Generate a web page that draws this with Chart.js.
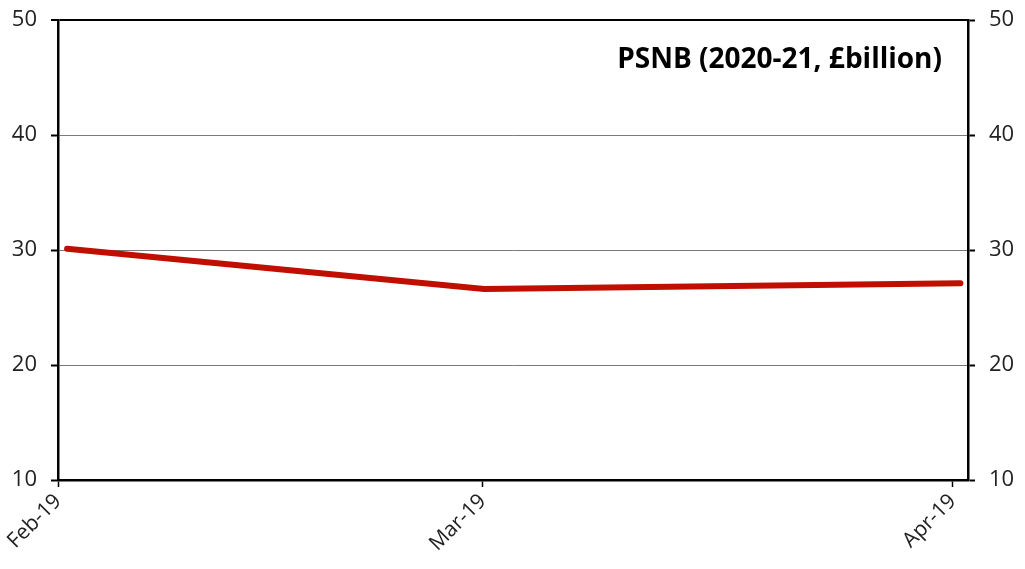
<!DOCTYPE html>
<html>
<head>
<meta charset="utf-8">
<script src="https://cdn.jsdelivr.net/npm/chart.js@4/dist/chart.umd.min.js"></script>
<style>
  html, body { margin: 0; padding: 0; background: #fff; }
  #wrap { width: 1025px; height: 569px; }
</style>
</head>
<body>
<div id="wrap"><canvas id="psnbChart"></canvas></div>
<script>
// data
const categories = ["Feb-19", "Mar-19", "Apr-19"];
const tickDays = [0, 28, 59];        // days since 1 Feb 2019 for each month tick
const pointDays = [0.6, 28.1, 59.5]; // where the line's points sit
const psnb = [30.1, 26.6, 27.1];
const yTicks = [10, 20, 30, 40, 50];
const seriesTitle = "PSNB (2020-21, £billion)";

const FONT = "'Open Sans', 'Noto Sans', sans-serif";

const titlePlugin = {
  id: "cornerTitle",
  afterDraw(chart) {
    const { ctx, chartArea } = chart;
    ctx.save();
    ctx.font = "bold 28px " + FONT;
    ctx.fillStyle = "#000";
    ctx.textAlign = "right";
    ctx.textBaseline = "alphabetic";
    ctx.fillText(seriesTitle, chartArea.right - 26, chartArea.top + 48);
    ctx.restore();
  },
};

const yAxisTicks = (scale) => {
  scale.ticks = yTicks.map((v) => ({ value: v }));
};

// fixed axis widths, and no extra label overhang padding at top/bottom
const fitYAxis = (width) => (scale) => {
  scale.width = width;
  scale.paddingTop = 0;
  scale.paddingBottom = 0;
};

const ctx = document.getElementById("psnbChart").getContext("2d");

new Chart(ctx, {
  type: "line",
  data: {
    datasets: [
      {
        label: seriesTitle,
        data: pointDays.map((d, i) => ({ x: d, y: psnb[i] })),
        borderColor: "#c00f00",
        borderWidth: 6,
        borderCapStyle: "round",
        borderJoinStyle: "round",
        pointRadius: 0,
        tension: 0,
        yAxisID: "y",
      },
    ],
  },
  options: {
    responsive: true,
    maintainAspectRatio: false,
    animation: false,
    layout: { padding: { top: 20, left: 0, right: 0, bottom: 0 } },
    plugins: {
      legend: { display: false },
      tooltip: { enabled: false },
    },
    scales: {
      x: {
        type: "linear",
        min: 0,
        max: 60,
        afterBuildTicks: (scale) => {
          scale.ticks = tickDays.map((v) => ({ value: v }));
        },
        afterFit: (scale) => {
          scale.height = 89;
          scale.paddingLeft = 0;
          scale.paddingRight = 0;
        },
        ticks: {
          autoSkip: false,
          maxRotation: 45,
          minRotation: 45,
          padding: 2,
          color: "#222",
          font: { family: FONT, size: 21 },
          callback: (value) => categories[tickDays.indexOf(value)],
        },
        grid: {
          drawOnChartArea: false,
          drawTicks: true,
          tickLength: 7,
          tickColor: "#000",
          tickWidth: 1.5,
        },
        border: { display: true, color: "#000", width: 2.5 },
      },
      y: {
        position: "left",
        min: 10,
        max: 50,
        afterBuildTicks: yAxisTicks,
        afterFit: fitYAxis(58),
        ticks: {
          padding: 14,
          color: "#222",
          font: { family: FONT, size: 22 },
        },
        grid: {
          drawTicks: true,
          tickLength: 7,
          tickColor: "#000",
          tickWidth: 2,
          color: (c) => (c.tick && c.tick.value === 50 ? "#000" : (c.tick && c.tick.value === 10 ? "rgba(0,0,0,0)" : "#7a7a7a")),
          lineWidth: (c) => (c.tick && c.tick.value === 50 ? 2 : 1),
        },
        border: { display: true, color: "#000", width: 2.5 },
      },
      y2: {
        position: "right",
        min: 10,
        max: 50,
        afterBuildTicks: yAxisTicks,
        afterFit: fitYAxis(57),
        ticks: {
          padding: 14,
          color: "#222",
          font: { family: FONT, size: 22 },
        },
        grid: {
          drawOnChartArea: false,
          drawTicks: true,
          tickLength: 7,
          tickColor: "#000",
          tickWidth: 2,
        },
        border: { display: true, color: "#000", width: 2.5 },
      },
    },
  },
  plugins: [titlePlugin],
});
</script>
</body>
</html>
